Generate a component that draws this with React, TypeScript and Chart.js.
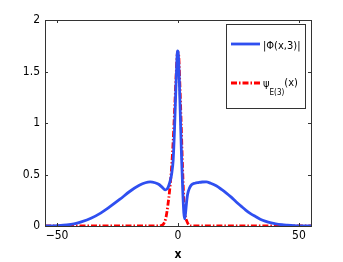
import React, { useEffect, useRef } from "react";
import { Chart, registerables } from "chart.js";

Chart.register(...registerables);

const phiX = [-55, -50, -46, -43, -40, -36, -32, -28, -24, -20, -16, -13.5, -11.5, -9.5, -8, -6.5, -5.3, -4.5, -4, -3.2, -2.6, -2, -1.5, -1, -0.5, -0.2, 0.1, 0.5, 1, 1.5, 2, 2.4, 2.75, 3.1, 3.5, 4, 4.8, 5.6, 7, 8.5, 10, 11.7, 13.5, 15.8, 18, 20, 22, 24, 26, 28, 30, 32.2, 34, 36.3, 38.5, 40.4, 43, 45.2, 48, 52, 55];
const phiY = [0, 0.004, 0.01, 0.02, 0.04, 0.075, 0.125, 0.19, 0.26, 0.335, 0.395, 0.42, 0.428, 0.42, 0.405, 0.375, 0.35, 0.36, 0.38, 0.44, 0.51, 0.64, 0.9, 1.25, 1.58, 1.7, 1.68, 1.45, 1.05, 0.65, 0.32, 0.13, 0.07, 0.12, 0.22, 0.31, 0.37, 0.4, 0.415, 0.422, 0.427, 0.428, 0.415, 0.39, 0.355, 0.32, 0.28, 0.236, 0.195, 0.155, 0.12, 0.09, 0.066, 0.045, 0.03, 0.02, 0.012, 0.008, 0.004, 0.001, 0];

const psiX = [-55, -8, -7, -6, -5, -4.2, -3.4, -2.7, -2, -1.3, -0.7, -0.2, 0.2, 0.7, 1.3, 1.9, 2.5, 3, 3.6, 4.3, 5, 6, 55];
const psiY = [0, 0, 0.005, 0.02, 0.08, 0.2, 0.36, 0.55, 0.82, 1.18, 1.5, 1.69, 1.68, 1.42, 1.0, 0.55, 0.22, 0.1, 0.05, 0.015, 0, 0, 0];

const xTicks = [-50, 0, 50];
const yTicks = [0, 0.5, 1, 1.5, 2];
const legendLabels = ["|Φ(x,3)|", "ψ", "E(3)", "(x)"];

const FONT = '"Liberation Sans Narrow", "DejaVu Sans Condensed", "Liberation Sans", Arial, sans-serif';
const BLUE = "#2f4ff0";
const RED = "#ff0000";
const RED_DASH = [6, 2, 1.5, 2];

const boxPlugin = {
  id: "boxPlugin",
  afterDatasetsDraw(chart: any) {
    const { ctx, chartArea: a, scales } = chart;
    ctx.save();
    ctx.strokeStyle = "#333";
    ctx.lineWidth = 1;
    ctx.strokeRect(Math.round(a.left) + 0.5, Math.round(a.top) + 0.5, Math.round(a.right - a.left), Math.round(a.bottom - a.top));
    const tl = 3;
    ctx.beginPath();
    for (const v of xTicks) {
      const px = Math.round(scales.x.getPixelForValue(v)) + 0.5;
      ctx.moveTo(px, a.bottom);
      ctx.lineTo(px, a.bottom - tl);
      ctx.moveTo(px, a.top);
      ctx.lineTo(px, a.top + tl);
    }
    for (const v of yTicks) {
      const py = Math.round(scales.y.getPixelForValue(v)) + 0.5;
      ctx.moveTo(a.left, py);
      ctx.lineTo(a.left + tl, py);
      ctx.moveTo(a.right, py);
      ctx.lineTo(a.right - tl, py);
    }
    ctx.stroke();

    // legend
    const L = 226, T = 24, R = 305, B = 108;
    ctx.fillStyle = "#fff";
    ctx.fillRect(L, T, R - L, B - T);
    ctx.strokeStyle = "#333";
    ctx.strokeRect(L + 0.5, T + 0.5, R - L, B - T);
    ctx.lineWidth = 2.8;
    ctx.strokeStyle = BLUE;
    ctx.beginPath();
    ctx.moveTo(231, 44);
    ctx.lineTo(260, 44);
    ctx.stroke();
    ctx.strokeStyle = RED;
    ctx.setLineDash(RED_DASH);
    ctx.beginPath();
    ctx.moveTo(231, 83);
    ctx.lineTo(260, 83);
    ctx.stroke();
    ctx.setLineDash([]);
    ctx.fillStyle = "#000";
    ctx.textBaseline = "alphabetic";
    ctx.textAlign = "left";
    ctx.font = `11px ${FONT}`;
    ctx.fillText(legendLabels[0], 263, 49);
    ctx.fillText(legendLabels[1], 263, 87);
    const w1 = ctx.measureText(legendLabels[1]).width;
    ctx.font = `8px ${FONT}`;
    ctx.fillText(legendLabels[2], 263 + w1, 95);
    const w2 = ctx.measureText(legendLabels[2]).width;
    ctx.font = `11px ${FONT}`;
    ctx.fillText(legendLabels[3], 263 + w1 + w2, 86);
    ctx.restore();
  },
};

export default function App() {
  const ref = useRef<HTMLCanvasElement>(null);
  useEffect(() => {
    if (!ref.current) return;
    const chart = new Chart(ref.current, {
      type: "line",
      data: {
        datasets: [
          {
            label: "|Φ(x,3)|",
            data: phiX.map((x, i) => ({ x, y: phiY[i] })),
            borderColor: BLUE,
            borderWidth: 2.8,
            pointRadius: 0,
            cubicInterpolationMode: "monotone",
            fill: false,
          },
          {
            label: "ψE(3)(x)",
            data: psiX.map((x, i) => ({ x, y: psiY[i] })),
            borderColor: RED,
            borderWidth: 2.8,
            borderDash: RED_DASH,
            pointRadius: 0,
            cubicInterpolationMode: "monotone",
            fill: false,
          },
        ],
      },
      options: {
        animation: false,
        responsive: true,
        maintainAspectRatio: false,
        layout: { padding: { top: 20, right: 32, left: 0, bottom: 0 } },
        plugins: { legend: { display: false }, tooltip: { enabled: false } },
        scales: {
          x: {
            type: "linear",
            min: -55,
            max: 55,
            afterBuildTicks: (s: any) => {
              s.ticks = xTicks.map((v) => ({ value: v }));
            },
            afterFit: (s: any) => {
              s.height = 36;
            },
            grid: { display: false, drawTicks: false },
            border: { display: false },
            ticks: {
              color: "#000",
              font: { family: FONT, size: 12 },
              padding: 3,
              maxRotation: 0,
              callback: (v: any) => (v < 0 ? "\u2212" + Math.abs(v) : String(v)),
            },
            title: {
              display: true,
              text: "x",
              color: "#000",
              font: { family: FONT, size: 12, weight: "bold" },
              padding: { top: 0, bottom: 0 },
            },
          },
          y: {
            min: 0,
            max: 2,
            afterBuildTicks: (s: any) => {
              s.ticks = yTicks.map((v) => ({ value: v }));
            },
            afterFit: (s: any) => {
              s.width = 45;
            },
            grid: { display: false, drawTicks: false },
            border: { display: false },
            ticks: {
              color: "#000",
              font: { family: FONT, size: 12 },
              padding: 5,
              callback: (v: any) => String(v),
            },
          },
        },
      },
      plugins: [boxPlugin],
    } as any);
    return () => chart.destroy();
  }, []);
  return (
    <div style={{ position: "fixed", left: 0, top: 0, width: 343, height: 262, background: "#fff" }}>
      <canvas ref={ref} />
    </div>
  );
}
